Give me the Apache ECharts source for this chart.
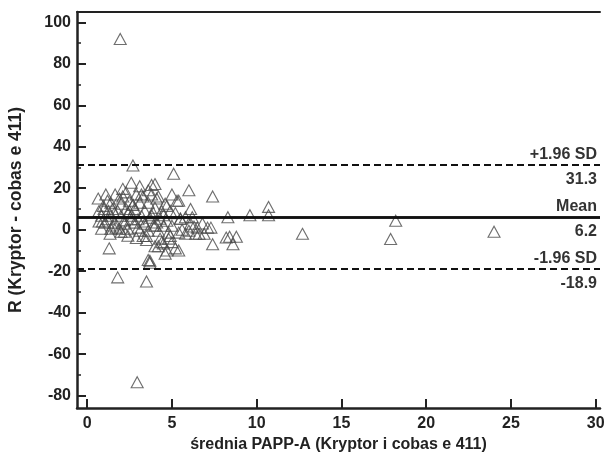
<!DOCTYPE html>
<html>
<head>
<meta charset="utf-8">
<script src="https://cdn.jsdelivr.net/npm/echarts@6/dist/echarts.min.js"></script>
<style>
  html, body { margin: 0; padding: 0; background: #fff; }
  #chart { width: 608px; height: 457px; }
</style>
</head>
<body>
<div id="chart"></div>
<script>
const xTicks = [0, 5, 10, 15, 20, 25, 30];
const yTicks = [-80, -60, -40, -20, 0, 20, 40, 60, 80, 100];
const yMinorTicks = [-70, -50, -30, -10, 10, 30, 50, 70, 90];

const meanDiff = 6.2;
const upperLimit = 31.3;
const lowerLimit = -18.9;

// srednia (x) and roznica R (y)
const avgValues = [
    1.95, 2.95, 3.5, 1.8, 3.7, 2.7, 5.1, 6.0, 7.4, 9.6, 10.7, 10.7, 8.3, 12.7, 17.9, 18.2, 24.0,
    8.8, 8.4, 8.6, 7.4, 7.1, 6.4, 6.1, 1.3, 4.0,
    2.6, 3.8, 2.1, 0.65, 1.1, 1.65, 2.3, 2.9, 3.3, 3.8, 4.1, 5.4, 4.6,
    1.4, 2.0, 2.5, 3.1, 3.6, 0.95, 1.25, 1.8, 2.3, 2.8, 3.4, 4.0, 4.4, 4.9,
    0.85, 1.4, 2.0, 2.6, 3.2, 3.7, 4.3, 4.7, 5.5, 1.05, 1.65, 2.2, 2.8, 3.4, 4.0, 4.5, 5.0,
    0.85, 1.4, 1.9, 2.4, 3.1, 3.6, 4.2, 4.8, 5.4, 6.0, 6.6, 1.35, 2.4, 4.3, 4.8, 4.5, 5.2,
    4.7, 5.4, 3.6, 3.2, 5.3, 4.7, 8.2, 5.5, 6.1, 5.8, 4.6, 3.7,
    1.6, 2.2, 2.7, 3.0, 3.5, 3.9, 4.4, 1.2, 1.9, 2.5, 3.3, 4.1, 2.0, 2.9, 3.8, 1.5, 2.6, 3.5,
    5.8, 6.3, 5.0, 4.2, 1.0, 0.7, 6.8,
    0.7, 0.9, 1.2, 1.5, 1.7, 2.1, 2.4, 2.7, 3.0, 3.3, 3.6, 3.9, 4.2, 4.5, 4.9, 5.2, 5.6, 6.2,
    6.5, 3.1, 2.2, 4.0, 5.0, 6.9, 7.3
];
const diffValues = [
    92, -73.6, -25, -23, -15, 31, 27, 19, 16, 7, 11, 7, 6, -2, -4.5, 4.3, -1,
    -3.4, -3.4, -7, -7, 1, -2, 10, -9, 22,
    22.6, 21.6, 19.7, 15, 17, 17, 18, 17, 16, 17, 15, 14, 12.5,
    13, 12.5, 14, 13, 13, 11.5, 9, 9, 10, 10, 9, 10.6, 9, 9,
    6.7, 6.7, 6.7, 6.7, 6.7, 5.8, 5.3, 4.3, 5.3, 3.4, 3.4, 2.9, 3.4, 2.9, 1.9, 1.9, 1.9,
    0.5, 0.5, 0.5, 0.5, -0.5, -0.5, -0.5, -1.4, -1.4, -0.5, -2, -2, -2.9, -4.3, -4.3, -6.7, -9,
    -10, -10, -14.6, 17, 14, 11.5, -3.8, 5.3, 2.9, -2, -11.6, -15.9,
    8, 4.5, 12, 1, -3, 8, -6, 5, 15, 9, 4, 3.5, -1, -4, 7, 2, 5, -5,
    6, 1.5, -6, -8, 10, 4, 3,
    9, 4, 14, 10, 1, 16, 8, 12, 5, -3, 19, 2, 16, 7, -3, 8, 0, 6,
    1, 21, -1, -8, 17, -2, 1
];

const points = avgValues.map((x, i) => [x, diffValues[i]]);

const chartDom = document.getElementById('chart');
const myChart = echarts.init(chartDom);

const textFont = { fontFamily: 'Liberation Sans', fontWeight: 'bold', fontSize: 16, color: '#222' };
const X_MIN = -0.6, X_MAX = 30.25, Y_MIN = -86, Y_MAX = 105;

function limitLine(value, title, dashed, width) {
    const style = { color: '#111', width: width, type: dashed ? [7, 4] : 'solid' };
    const lbl = { show: true, fontFamily: 'Liberation Sans', fontWeight: 'bold', fontSize: 16, color: '#333' };
    return [
        { yAxis: value, lineStyle: style, label: Object.assign({ position: 'insideEndTop', formatter: title, distance: [3, 2] }, lbl) },
        { yAxis: value, lineStyle: style, label: Object.assign({ position: 'insideEndBottom', formatter: value.toFixed(1), distance: [3, 7] }, lbl) }
    ];
}

// extra axes that only carry tick marks
function tickXAxis(values) {
    return {
        type: 'value', position: 'bottom', min: X_MIN, max: X_MAX,
        axisLine: { show: false, onZero: false },
        axisTick: { show: true, inside: true, length: 9, customValues: values, lineStyle: { color: '#222', width: 2 } },
        axisLabel: { show: false },
        splitLine: { show: false }
    };
}
function tickYAxis(values, len, w) {
    return {
        type: 'value', position: 'left', min: Y_MIN, max: Y_MAX,
        axisLine: { show: false, onZero: false },
        axisTick: { show: true, inside: true, length: len, customValues: values, lineStyle: { color: '#222', width: w } },
        axisLabel: { show: false },
        splitLine: { show: false }
    };
}

const option = {
    animation: false,
    backgroundColor: '#fff',
    grid: { left: 77, right: 8, top: 12, bottom: 49, outerBoundsMode: 'none', containLabel: false },
    xAxis: [{
        type: 'value',
        min: X_MIN,
        max: X_MAX,
        name: 'średnia PAPP-A (Kryptor i cobas e 411)',
        nameLocation: 'middle',
        nameGap: 29,
        nameTextStyle: textFont,
        axisLine: { show: true, onZero: false, lineStyle: { color: '#222', width: 2.5 } },
        axisTick: { show: false },
        axisLabel: Object.assign({ customValues: xTicks, margin: 8 }, textFont),
        splitLine: { show: false }
    }, {
        type: 'value',
        position: 'top',
        min: X_MIN,
        max: X_MAX,
        axisLine: { show: true, onZero: false, lineStyle: { color: '#222', width: 2 } },
        axisTick: { show: false },
        axisLabel: { show: false },
        splitLine: { show: false }
    }, tickXAxis(xTicks)],
    yAxis: [{
        type: 'value',
        min: Y_MIN,
        max: Y_MAX,
        name: 'R (Kryptor - cobas e 411)',
        nameLocation: 'middle',
        nameGap: 52,
        nameTextStyle: Object.assign({}, textFont, { fontSize: 17.5 }),
        axisLine: { show: true, onZero: false, lineStyle: { color: '#222', width: 2.5 } },
        axisTick: { show: false },
        axisLabel: Object.assign({ customValues: yTicks, margin: 6 }, textFont),
        splitLine: { show: false }
    }, tickYAxis(yTicks, 9, 2), tickYAxis(yMinorTicks, 4, 1.5)],
    series: [{
        type: 'scatter',
        xAxisIndex: 0,
        yAxisIndex: 0,
        symbol: 'triangle',
        symbolSize: [12, 11],
        data: points,
        itemStyle: { color: 'rgba(255,255,255,0)', borderColor: '#4a4a4a', borderWidth: 1.1 },
        markLine: {
            silent: true,
            symbol: 'none',
            animation: false,
            data: [].concat(
                limitLine(upperLimit, '+1.96 SD', true, 2),
                limitLine(meanDiff, 'Mean', false, 2.5),
                limitLine(lowerLimit, '-1.96 SD', true, 2)
            )
        }
    }]
};

myChart.setOption(option);
</script>
</body>
</html>
